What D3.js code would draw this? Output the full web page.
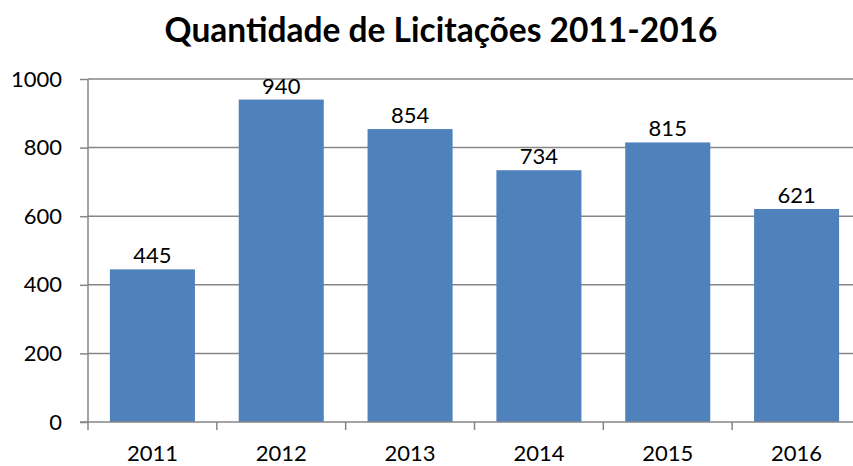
<!DOCTYPE html>
<html>
<head>
<meta charset="utf-8">
<script src="https://d3js.org/d3.v7.min.js"></script>
<style>
  body { margin: 0; background: #fff; }
  text { font-family: Lato, "Open Sans", sans-serif; fill: #000; }
</style>
</head>
<body>
<div id="chart"></div>
<script>
var years = ["2011", "2012", "2013", "2014", "2015", "2016"];
var quantidade = [445, 940, 854, 734, 815, 621];
var yTicks = [0, 200, 400, 600, 800, 1000];

var svgWidth = 853;
var svgHeight = 466;

var margin = { top: 79, right: -8, bottom: 44, left: 88 };
var width = svgWidth - margin.left - margin.right;
var height = svgHeight - margin.top - margin.bottom;

var svg = d3.select("#chart")
  .append("svg")
  .attr("width", svgWidth)
  .attr("height", svgHeight);

var chartGroup = svg.append("g")
  .attr("transform", `translate(${margin.left}, ${margin.top})`);

var xScale = d3.scaleBand()
  .domain(years)
  .range([0, width])
  .paddingInner(0.34)
  .paddingOuter(0.17);

var yScale = d3.scaleLinear()
  .domain([0, 1000])
  .range([height, 0]);

// gridlines
chartGroup.append("g")
  .selectAll("line")
  .data(yTicks.slice(1))
  .enter()
  .append("line")
  .attr("x1", 0)
  .attr("x2", width)
  .attr("y1", d => yScale(d))
  .attr("y2", d => yScale(d))
  .attr("stroke", "#868686")
  .attr("stroke-width", 1.5);

// bars
chartGroup.selectAll("rect")
  .data(quantidade)
  .enter()
  .append("rect")
  .attr("x", (d, i) => xScale(years[i]))
  .attr("y", d => yScale(d))
  .attr("width", xScale.bandwidth())
  .attr("height", d => height - yScale(d))
  .attr("fill", "#4F81BD");

// y axis
var leftAxis = d3.axisLeft(yScale)
  .tickValues(yTicks)
  .tickFormat(d3.format("d"))
  .tickSize(8)
  .tickPadding(18);

var yAxis = chartGroup.append("g").call(leftAxis);
yAxis.select(".domain").attr("stroke", "#868686").attr("stroke-width", 1.5)
  .attr("d", `M0,${height}V0`);
yAxis.selectAll(".tick line").attr("stroke", "#868686").attr("stroke-width", 1.5);
yAxis.selectAll("text").style("font-size", "22px");

// x axis with ticks between categories
var step = xScale.step();
var xAxis = chartGroup.append("g")
  .attr("transform", `translate(0, ${height})`);

xAxis.append("line")
  .attr("x1", -8)
  .attr("x2", width)
  .attr("stroke", "#868686")
  .attr("stroke-width", 1.5);

xAxis.selectAll(".xtick")
  .data(d3.range(years.length + 1))
  .enter()
  .append("line")
  .attr("x1", i => i * step)
  .attr("x2", i => i * step)
  .attr("y1", 0)
  .attr("y2", 8)
  .attr("stroke", "#868686")
  .attr("stroke-width", 1.5);

xAxis.selectAll(".xlabel")
  .data(years)
  .enter()
  .append("text")
  .attr("x", d => xScale(d) + xScale.bandwidth() / 2)
  .attr("y", 39)
  .attr("text-anchor", "middle")
  .style("font-size", "22px")
  .text(d => d);

// value labels
chartGroup.selectAll(".valueLabel")
  .data(quantidade)
  .enter()
  .append("text")
  .attr("x", (d, i) => xScale(years[i]) + xScale.bandwidth() / 2)
  .attr("y", d => yScale(d) - 6)
  .attr("text-anchor", "middle")
  .style("font-size", "22px")
  .text(d => d);

// title
svg.append("text")
  .attr("x", 441)
  .attr("y", 42)
  .attr("text-anchor", "middle")
  .style("font-size", "33.5px")
  .style("font-weight", "bold")
  .text("Quantidade de Licitações 2011-2016");
</script>
</body>
</html>
